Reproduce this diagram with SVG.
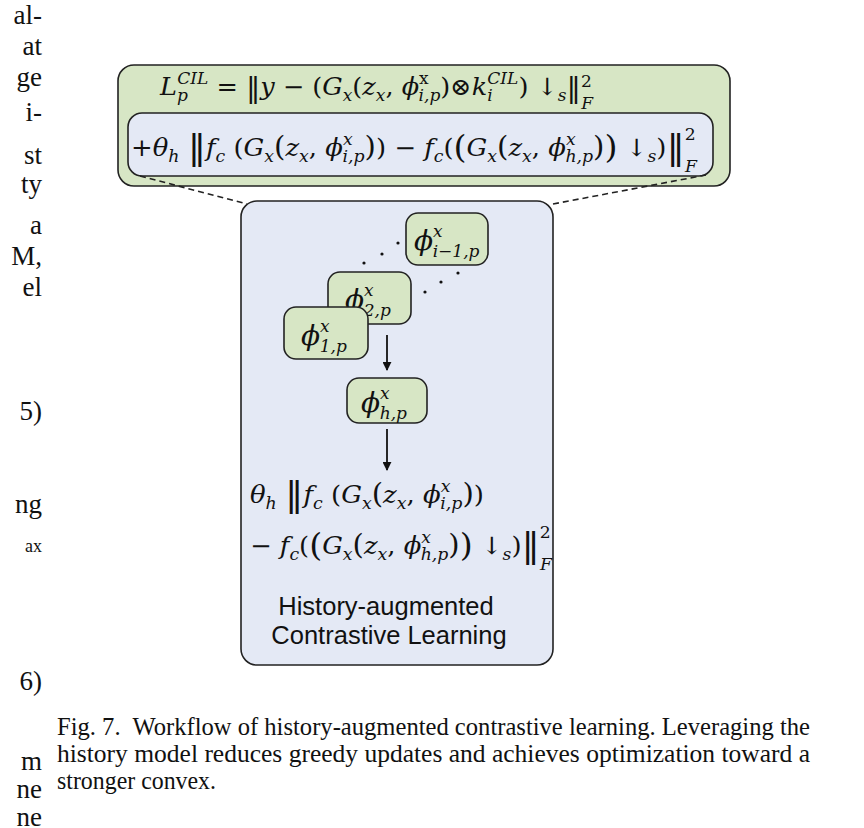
<svg xmlns="http://www.w3.org/2000/svg" width="864" height="828" viewBox="0 0 864 828">
<style>
.bg{fill:#ffffff}
.green{fill:#d7e6c5;stroke:#222;stroke-width:1.6}
.blue{fill:#e4e9f5;stroke:#222;stroke-width:1.6}
.m{font-family:"DejaVu Serif","Liberation Serif",serif;font-style:italic;font-size:24px;fill:#111}
.u{font-style:normal}
.s{font-size:16px}
.big{font-family:"DejaVu Serif",serif;font-size:34px;font-style:normal}
.mid{font-family:"DejaVu Serif",serif;font-size:27px;font-style:normal}
.p2{font-family:"DejaVu Serif",serif;font-size:31px;font-style:normal}
.n{font-family:"DejaVu Serif","Liberation Serif",serif;font-style:italic;font-size:28px;fill:#111}
.ns{font-size:17px}
.lab{font-family:"Liberation Sans",Arial,sans-serif;font-size:25.5px;fill:#111;text-anchor:middle}
.body{font-family:"Liberation Serif","Times New Roman",serif;font-size:27px;fill:#111;text-anchor:end}
.cap{font-family:"Liberation Serif","Times New Roman",serif;font-size:25px;fill:#111}
.conn{stroke:#111;stroke-width:1.8;fill:none}
.dash{stroke:#222;stroke-width:1.6;stroke-dasharray:6 4;fill:none}
.dot{fill:#111}
</style>
<defs>
<marker id="ah" viewBox="0 0 10 10" refX="9" refY="5" markerWidth="5" markerHeight="5" orient="auto">
<path d="M0,0 L10,5 L0,10 z" fill="#111"/>
</marker>
</defs>
<rect class="bg" x="0" y="0" width="864" height="828"/>

<g id="page-text">
<text class="body" x="42" y="24">al-</text>
<text class="body" x="42" y="55">at</text>
<text class="body" x="42" y="86">ge</text>
<text class="body" x="42" y="121">i-</text>
<text class="body" x="42" y="164">st</text>
<text class="body" x="42" y="193">ty</text>
<text class="body" x="42" y="234">a</text>
<text class="body" x="42" y="265">M,</text>
<text class="body" x="42" y="296">el</text>
<text class="body" x="42" y="420">5)</text>
<text class="body" x="42" y="513">ng</text>
<text class="body" x="42" y="552" style="font-size:18px">ax</text>
<text class="body" x="42" y="690">6)</text>
<text class="body" x="42" y="770">m</text>
<text class="body" x="42" y="798">ne</text>
<text class="body" x="42" y="826">ne</text>
</g>

<g id="loss-box">
<rect class="green" x="118" y="65" width="612" height="121" rx="16"/>
<text class="m" x="160" y="95" textLength="433" lengthAdjust="spacingAndGlyphs">L<tspan class="s" dy="6">p</tspan><tspan class="s" dx="-10" dy="-17">CIL</tspan><tspan class="u" dy="11"> = </tspan><tspan class="mid" dy="2">‖</tspan><tspan dy="-2">y</tspan><tspan class="u"> − (</tspan>G<tspan class="s" dy="6">x</tspan><tspan class="u" dy="-6">(</tspan>z<tspan class="s" dy="6">x</tspan><tspan class="u" dy="-6">, </tspan>ϕ<tspan class="s u" dy="-11">x</tspan><tspan class="s" dx="-9.5" dy="17">i,p</tspan><tspan class="u" dy="-6">)⊗</tspan>k<tspan class="s" dy="6">i</tspan><tspan class="s" dx="-5" dy="-17">CIL</tspan><tspan class="u" dy="11">) ↓</tspan><tspan class="s" dy="6">s</tspan><tspan class="mid" dy="-4">‖</tspan><tspan class="s u" dy="-10">2</tspan><tspan class="s" dx="-10" dy="22">F</tspan></text>
</g>

<g id="contrastive-term">
<rect class="blue" x="128" y="113" width="585" height="63" rx="14"/>
<text class="m" x="131" y="156" textLength="566" lengthAdjust="spacingAndGlyphs"><tspan class="u">+</tspan>θ<tspan class="s" dy="6">h</tspan><tspan dy="-6"> </tspan><tspan class="big" dy="3">‖</tspan><tspan dy="-3">f</tspan><tspan class="s" dy="6">c</tspan><tspan class="u" dy="-6"> (</tspan>G<tspan class="s" dy="6">x</tspan><tspan class="mid" dy="-6">(</tspan>z<tspan class="s" dy="6">x</tspan><tspan class="u" dy="-6">, </tspan>ϕ<tspan class="s" dy="-11">x</tspan><tspan class="s" dx="-9.5" dy="17">i,p</tspan><tspan class="mid" dy="-6">)</tspan><tspan class="u">) − </tspan>f<tspan class="s" dy="6">c</tspan><tspan class="u" dy="-6">(</tspan><tspan class="p2" dy="2">(</tspan><tspan dy="-2">G</tspan><tspan class="s" dy="6">x</tspan><tspan class="mid" dy="-6">(</tspan>z<tspan class="s" dy="6">x</tspan><tspan class="u" dy="-6">, </tspan>ϕ<tspan class="s" dy="-11">x</tspan><tspan class="s" dx="-9.5" dy="17">h,p</tspan><tspan class="mid" dy="-6">)</tspan><tspan class="p2" dy="2">)</tspan><tspan class="u" dy="-2"> ↓</tspan><tspan class="s" dy="6">s</tspan><tspan class="u" dy="-6">)</tspan><tspan class="big" dy="3">‖</tspan><tspan class="s u" dy="-19">2</tspan><tspan class="s" dx="-10" dy="32">F</tspan></text>
</g>

<g id="hacl-panel">
<rect class="blue" x="241" y="201" width="312" height="464" rx="16"/>
<circle class="dot" cx="364" cy="263" r="1.6"/>
<circle class="dot" cx="382" cy="254" r="1.6"/>
<circle class="dot" cx="398" cy="243" r="1.6"/>
<circle class="dot" cx="425" cy="292" r="1.6"/>
<circle class="dot" cx="441" cy="282" r="1.6"/>
<circle class="dot" cx="458" cy="273" r="1.6"/>
<text class="m" x="250" y="503" textLength="234" lengthAdjust="spacingAndGlyphs">θ<tspan class="s" dy="6">h</tspan><tspan dy="-6"> </tspan><tspan class="big" dy="3">‖</tspan><tspan dy="-3">f</tspan><tspan class="s" dy="6">c</tspan><tspan class="u" dy="-6"> (</tspan>G<tspan class="s" dy="6">x</tspan><tspan class="mid" dy="-6">(</tspan>z<tspan class="s" dy="6">x</tspan><tspan class="u" dy="-6">, </tspan>ϕ<tspan class="s" dy="-11">x</tspan><tspan class="s" dx="-9.5" dy="17">i,p</tspan><tspan class="mid" dy="-6">)</tspan><tspan class="u">)</tspan></text>
<text class="m" x="250" y="554" textLength="302" lengthAdjust="spacingAndGlyphs"><tspan class="u">− </tspan>f<tspan class="s" dy="6">c</tspan><tspan class="u" dy="-6">(</tspan><tspan class="p2" dy="2">(</tspan><tspan dy="-2">G</tspan><tspan class="s" dy="6">x</tspan><tspan class="mid" dy="-6">(</tspan>z<tspan class="s" dy="6">x</tspan><tspan class="u" dy="-6">, </tspan>ϕ<tspan class="s" dy="-11">x</tspan><tspan class="s" dx="-9.5" dy="17">h,p</tspan><tspan class="mid" dy="-6">)</tspan><tspan class="p2" dy="2">)</tspan><tspan class="u" dy="-2"> ↓</tspan><tspan class="s" dy="6">s</tspan><tspan class="u" dy="-6">)</tspan><tspan class="big" dy="3">‖</tspan><tspan class="s u" dy="-19">2</tspan><tspan class="s" dx="-10" dy="32">F</tspan></text>
<text class="lab" x="386" y="615">History-augmented</text>
<text class="lab" x="389" y="644">Contrastive Learning</text>
</g>

<g id="node-phi-i-1">
<rect class="green" x="406" y="213" width="82" height="52" rx="12"/>
<text class="n" x="414" y="250">ϕ<tspan class="ns" dy="-13">x</tspan><tspan class="ns" dx="-10" dy="20">i−1,p</tspan></text>
</g>
<g id="node-phi-2">
<rect class="green" x="328" y="272" width="83" height="52" rx="12"/>
<text class="n" x="345" y="309">ϕ<tspan class="ns" dy="-13">x</tspan><tspan class="ns" dx="-10" dy="20">2,p</tspan></text>
</g>
<g id="node-phi-1">
<rect class="green" x="284" y="307" width="84" height="52" rx="12"/>
<text class="n" x="301" y="345">ϕ<tspan class="ns" dy="-13">x</tspan><tspan class="ns" dx="-10" dy="20">1,p</tspan></text>
</g>
<g id="node-phi-h">
<rect class="green" x="347" y="378" width="80" height="45" rx="12"/>
<text class="n" x="361" y="412">ϕ<tspan class="ns" dy="-13">x</tspan><tspan class="ns" dx="-10" dy="20">h,p</tspan></text>
</g>

<g id="connectors">
<line class="dash" x1="140" y1="176" x2="247" y2="204"/>
<line class="dash" x1="553" y1="204" x2="706" y2="175"/>
<line class="conn" x1="387" y1="335" x2="387" y2="370" marker-end="url(#ah)"/>
<line class="conn" x1="387" y1="429" x2="387" y2="470" marker-end="url(#ah)"/>
</g>

<g id="caption">
<text class="cap" x="57" y="735" textLength="753" lengthAdjust="spacingAndGlyphs">Fig. 7.&#160; Workflow of history-augmented contrastive learning. Leveraging the</text>
<text class="cap" x="57" y="762" textLength="753" lengthAdjust="spacingAndGlyphs">history model reduces greedy updates and achieves optimization toward a</text>
<text class="cap" x="57" y="789" textLength="159" lengthAdjust="spacingAndGlyphs">stronger convex.</text>
</g>
</svg>
